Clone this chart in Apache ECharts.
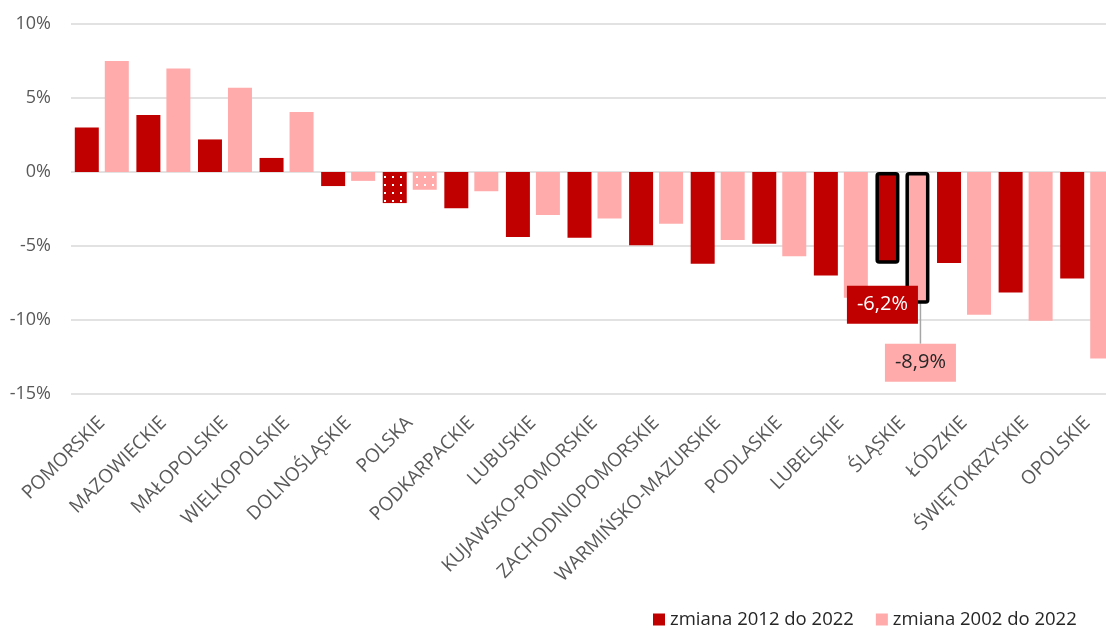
<!DOCTYPE html>
<html>
<head>
<meta charset="utf-8">
<script src="https://cdn.jsdelivr.net/npm/echarts@6/dist/echarts.min.js"></script>
<style>
html,body{margin:0;padding:0;background:#fff;overflow:hidden;width:1106px;height:628px;}
#chart{width:1120px;height:628px;}
</style>
</head>
<body>
<div id="chart"></div>
<script>
const categories = ['POMORSKIE','MAZOWIECKIE','MAŁOPOLSKIE','WIELKOPOLSKIE','DOLNOŚLĄSKIE','POLSKA','PODKARPACKIE','LUBUSKIE','KUJAWSKO-POMORSKIE','ZACHODNIOPOMORSKIE','WARMIŃSKO-MAZURSKIE','PODLASKIE','LUBELSKIE','ŚLĄSKIE','ŁÓDZKIE','ŚWIĘTOKRZYSKIE','OPOLSKIE'];
const change2012 = [3.0, 3.85, 2.2, 0.95, -0.95, -2.1, -2.45, -4.4, -4.45, -4.95, -6.2, -4.85, -7.0, -6.2, -6.15, -8.15, -7.2];
const change2002 = [7.5, 7.0, 5.7, 4.05, -0.6, -1.2, -1.3, -2.9, -3.15, -3.5, -4.6, -5.7, -8.5, -8.9, -9.65, -10.05, -12.6];
const seriesNames = ['zmiana 2012 do 2022', 'zmiana 2002 do 2022'];
const yTicks = {min: -15, max: 10, interval: 5};
const highlightCategory = 'ŚLĄSKIE';
const nationalCategory = 'POLSKA';

const DARK = '#C00000', PINK = '#FFABAB';
const FONT = 'Open Sans';
const hlIdx = categories.indexOf(highlightCategory);
const natIdx = categories.indexOf(nationalCategory);

const decal = {symbol: 'rect', symbolSize: 1, dashArrayX: [[2, 6]], dashArrayY: [2, 6], color: '#ffffff', rotation: 0};

function fmt(v){ return v.toFixed(1).replace('.', ',') + '%'; }

function buildData(values, color, textColor){
  return values.map((v, i) => {
    const item = {value: v};
    if (i === natIdx) item.itemStyle = {decal: decal};
    if (i === hlIdx) {
      item.itemStyle = {borderColor: '#000', borderWidth: 3.5, borderRadius: 2};
      item.label = {
        show: true, position: 'inside', formatter: () => fmt(v),
        backgroundColor: color, color: textColor, fontFamily: FONT, fontSize: 20,
        padding: [9, 10]
      };
    }
    return item;
  });
}

function layoutFor(dx, gap){
  return function(params){
    if (params.dataIndex !== hlIdx) return {};
    const r = params.rect;
    const bottom = Math.max(r.y, r.y + r.height);
    return {dx: dx, dy: bottom + gap - params.labelRect.y};
  };
}

const chart = echarts.init(document.getElementById('chart'));
chart.setOption({
  animation: false,
  aria: {enabled: true, decal: {show: false}},
  grid: {left: 71, top: 24, height: 370, width: 1047, containLabel: false},
  legend: {
    left: 648, top: 605, itemWidth: 12, itemHeight: 12, itemGap: 22,
    icon: 'rect',
    textStyle: {fontFamily: FONT, fontSize: 18.5, color: '#262626'},
    data: seriesNames
  },
  xAxis: {
    type: 'category', data: categories,
    axisLine: {show: false, onZero: false},
    axisTick: {show: false},
    axisLabel: {rotate: 45, interval: 0, margin: 26, fontFamily: FONT, fontSize: 19, color: '#595959'}
  },
  yAxis: {
    type: 'value', min: yTicks.min, max: yTicks.max, interval: yTicks.interval,
    axisLabel: {formatter: '{value}%', fontFamily: FONT, fontSize: 18, color: '#595959', margin: 20},
    axisLine: {show: false}, axisTick: {show: false},
    splitLine: {lineStyle: {color: '#D9D9D9', width: 1.5}}
  },
  series: [
    {
      name: seriesNames[0], type: 'bar', data: buildData(change2012, DARK, '#ffffff'),
      itemStyle: {color: DARK}, barWidth: 24, barGap: '25%',
      labelLayout: layoutFor(-5, 22)
    },
    {
      name: seriesNames[1], type: 'bar', data: buildData(change2002, PINK, '#262626'),
      itemStyle: {color: PINK}, barWidth: 24, barGap: '25%',
      labelLayout: layoutFor(3, 40),
      labelLine: {show: true, lineStyle: {color: '#A6A6A6', width: 1.5}}
    }
  ]
});
</script>
</body>
</html>
